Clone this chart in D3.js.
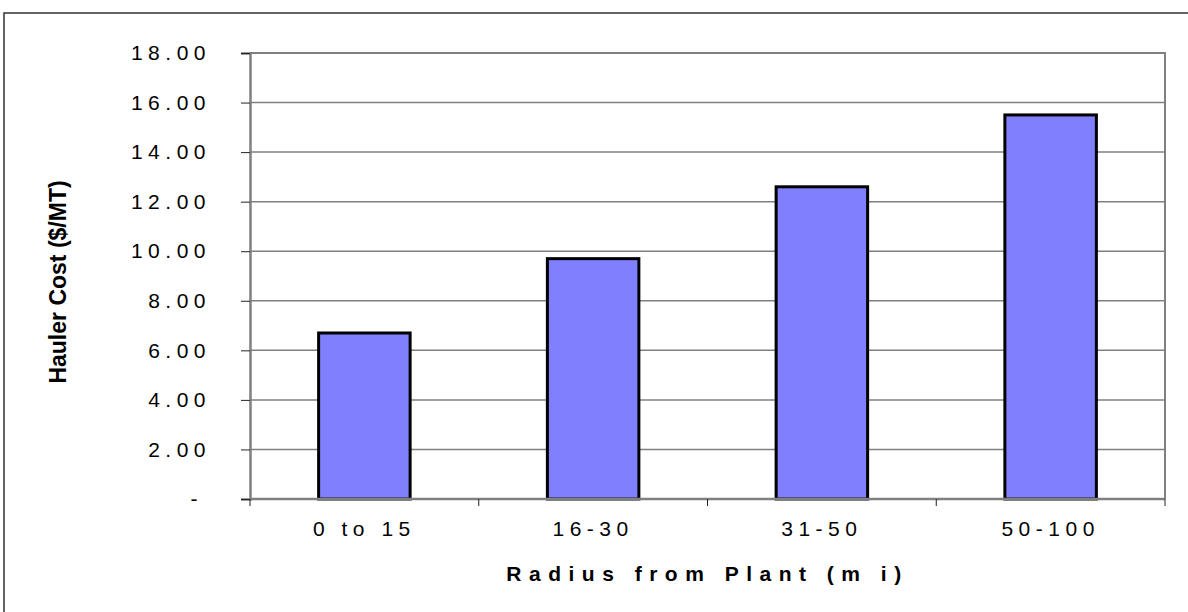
<!DOCTYPE html>
<html>
<head>
<meta charset="utf-8">
<script src="https://cdn.jsdelivr.net/npm/d3@7"></script>
<style>
  body { margin: 0; background: #fff; }
  svg { display: block; font-family: "Liberation Sans", Arial, sans-serif; }
</style>
</head>
<body>
<svg id="chart"></svg>
<script>
const categories = ["0 to 15", "16-30", "31-50", "50-100"];
const haulerCost = [6.7, 9.7, 12.6, 15.5];
const yTicks = [0, 2, 4, 6, 8, 10, 12, 14, 16, 18];

const width = 1188;
const height = 612;
const margin = { top: 53, right: 23, bottom: 113, left: 250 };

const svg = d3.select("#chart").attr("width", width).attr("height", height);

// outer frame (runs off the right/bottom edge)
svg.append("rect")
  .attr("x", 4).attr("y", 13)
  .attr("width", width + 10).attr("height", height + 10)
  .attr("fill", "none")
  .attr("stroke", "#333")
  .attr("stroke-width", 1.5);

const x = d3.scaleBand()
  .domain(categories)
  .range([margin.left, width - margin.right])
  .paddingInner(0.6)
  .paddingOuter(0.3);

const y = d3.scaleLinear()
  .domain([0, 18])
  .range([height - margin.bottom, margin.top]);

const x0 = margin.left, x1 = width - margin.right;
const yBase = y(0), yTop = y(18);

// gridlines
svg.append("g")
  .selectAll("line")
  .data(yTicks.filter(d => d > 0 && d < 18))
  .enter()
  .append("line")
  .attr("x1", x0).attr("x2", x1)
  .attr("y1", d => y(d)).attr("y2", d => y(d))
  .attr("stroke", "#808080")
  .attr("stroke-width", 1.5);

// plot border top + right
svg.append("path")
  .attr("d", `M${x0},${yTop}H${x1}V${yBase}`)
  .attr("fill", "none")
  .attr("stroke", "#808080")
  .attr("stroke-width", 2);

// bars
svg.append("g")
  .selectAll("rect")
  .data(haulerCost)
  .enter()
  .append("rect")
  .attr("x", (d, i) => x(categories[i]))
  .attr("y", d => y(d))
  .attr("width", x.bandwidth())
  .attr("height", d => yBase - y(d))
  .attr("fill", "#8080ff")
  .attr("stroke", "#000")
  .attr("stroke-width", 3);

// y axis
const yAxis = svg.append("g")
  .attr("transform", `translate(${x0},0)`)
  .call(d3.axisLeft(y)
    .tickValues(yTicks)
    .tickSize(9)
    .tickPadding(30)
    .tickFormat(d => d === 0 ? "-" : d3.format(".2f")(d)));
yAxis.select(".domain").attr("stroke", "#808080").attr("stroke-width", 2.5);
yAxis.selectAll(".tick line").attr("stroke", "#222");
yAxis.selectAll(".tick text")
  .attr("font-size", 21)
  .attr("letter-spacing", 5.5)
  .attr("fill", "#000")
  .filter(d => d === 0).attr("dx", -8);

// x axis: labels centered on bars, ticks at category boundaries
const xAxis = svg.append("g")
  .attr("transform", `translate(0,${yBase})`)
  .call(d3.axisBottom(x).tickSize(0).tickPadding(22));
xAxis.select(".domain").remove();
xAxis.selectAll(".tick text")
  .attr("font-size", 21)
  .attr("letter-spacing", 5.5)
  .attr("fill", "#000");

const bounds = categories.map(c => x(c) - (x.step() - x.bandwidth()) / 2).concat([x1]);
svg.append("line")
  .attr("x1", x0).attr("x2", x1)
  .attr("y1", yBase).attr("y2", yBase)
  .attr("stroke", "#808080")
  .attr("stroke-width", 2.5);
svg.append("g")
  .selectAll("line")
  .data(bounds)
  .enter()
  .append("line")
  .attr("x1", d => d).attr("x2", d => d)
  .attr("y1", yBase).attr("y2", yBase + 7)
  .attr("stroke", "#222");

// axis titles
svg.append("text")
  .attr("x", (x0 + x1) / 2)
  .attr("y", 581)
  .attr("text-anchor", "middle")
  .attr("font-size", 21)
  .attr("font-weight", "bold")
  .attr("letter-spacing", 7.5)
  .text("Radius from Plant (m i)");

svg.append("text")
  .attr("transform", `translate(66,${(yTop + yBase) / 2 + 6}) rotate(-90)`)
  .attr("text-anchor", "middle")
  .attr("font-size", 23)
  .attr("font-weight", "bold")
  .text("Hauler Cost ($/MT)");
</script>
</body>
</html>
